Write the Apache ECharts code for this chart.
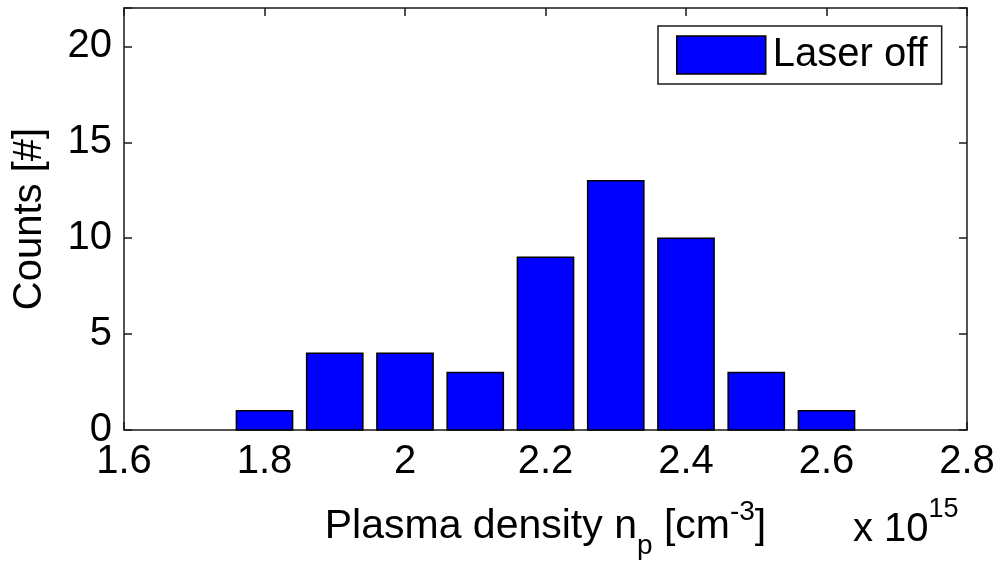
<!DOCTYPE html>
<html>
<head>
<meta charset="utf-8">
<script src="https://cdn.jsdelivr.net/npm/echarts@6/dist/echarts.min.js"></script>
<style>html,body{margin:0;padding:0;background:#fff}#c{width:998px;height:565px}</style>
</head>
<body>
<div id="c"></div>
<script>
// Data (plasma density in units of 1e15 cm^-3)
var binCenters = [1.8, 1.9, 2.0, 2.1, 2.2, 2.3, 2.4, 2.5, 2.6];
var counts = [1, 4, 4, 3, 9, 13, 10, 3, 1];
var xTicks = [1.6, 1.8, 2.0, 2.2, 2.4, 2.6, 2.8];
var yTicks = [0, 5, 10, 15, 20];
var seriesName = 'Laser off';

var FONT = "'Liberation Sans', Arial, Helvetica, sans-serif";
var BAR_W = 0.08;

var chart = echarts.init(document.getElementById('c'), null, {renderer: 'canvas'});
var data = binCenters.map(function (x, i) { return [x, counts[i]]; });

function yFmt(v) { return yTicks.indexOf(v) >= 0 ? String(v) : ''; }

var axisLineStyle = {color: '#1a1a1a', width: 1.5};
var option = {
  animation: false,
  backgroundColor: '#ffffff',
  grid: {left: 124, right: 31, top: 8, bottom: 132, containLabel: false},
  legend: {
    left: 658, top: 26,
    orient: 'horizontal',
    backgroundColor: '#fff',
    borderColor: '#1a1a1a', borderWidth: 1.5,
    padding: [9, 14, 9, 18],
    itemWidth: 89, itemHeight: 38,
    itemGap: 0,
    textStyle: {fontFamily: FONT, fontSize: 40, color: '#000', padding: [0, 0, 0, 2]},
    data: [{name: seriesName, icon: 'rect', itemStyle: {color: '#0000ff', borderColor: '#000', borderWidth: 1.5}}]
  },
  xAxis: [{
    type: 'value', min: 1.6, max: 2.8, interval: 0.2, position: 'bottom',
    axisLine: {show: true, onZero: false, lineStyle: axisLineStyle},
    axisTick: {show: true, inside: true, length: 8, lineStyle: axisLineStyle},
    axisLabel: {fontFamily: FONT, fontSize: 40, color: '#000', margin: 12,
      formatter: function (v) { return String(Math.round(v * 10) / 10); }},
    splitLine: {show: false},
    name: '{a|Plasma density n}{sub|p}{a| [cm}{sup|-3}{a|]}',
    nameLocation: 'middle', nameGap: 64,
    nameTextStyle: {
      fontFamily: FONT, color: '#000',
      rich: {
        a: {fontFamily: FONT, fontSize: 41, color: '#000', lineHeight: 66, verticalAlign: 'middle'},
        sub: {fontFamily: FONT, fontSize: 28, color: '#000', lineHeight: 66, verticalAlign: 'bottom'},
        sup: {fontFamily: FONT, fontSize: 28, color: '#000', lineHeight: 66, verticalAlign: 'top', padding: [4, 0, 0, 0]}
      }
    }
  }, {
    type: 'value', min: 1.6, max: 2.8, interval: 0.2, position: 'top',
    axisLine: {show: true, onZero: false, lineStyle: axisLineStyle},
    axisTick: {show: true, inside: true, length: 8, lineStyle: axisLineStyle},
    axisLabel: {show: false}, splitLine: {show: false}
  }],
  yAxis: [{
    type: 'value', min: 0, max: 22, interval: 5, position: 'left',
    axisLine: {show: true, onZero: false, lineStyle: axisLineStyle},
    axisTick: {show: true, inside: true, length: 8, lineStyle: axisLineStyle},
    axisLabel: {fontFamily: FONT, fontSize: 40, color: '#000', margin: 12, formatter: yFmt},
    splitLine: {show: false},
    name: 'Counts [#]', nameLocation: 'middle', nameGap: 74, nameRotate: 90,
    nameTextStyle: {fontFamily: FONT, fontSize: 40, color: '#000'}
  }, {
    type: 'value', min: 0, max: 22, interval: 5, position: 'right',
    axisLine: {show: true, onZero: false, lineStyle: axisLineStyle},
    axisTick: {show: true, inside: true, length: 8, lineStyle: axisLineStyle},
    axisLabel: {show: false}, splitLine: {show: false}
  }],
  graphic: [{
    type: 'text', left: 853, top: 496,
    style: {
      text: '{a|x 10}{sup|15}',
      rich: {
        a: {fontFamily: FONT, fontSize: 40, fill: '#000', lineHeight: 54, verticalAlign: 'bottom'},
        sup: {fontFamily: FONT, fontSize: 27, fill: '#000', lineHeight: 54, verticalAlign: 'top'}
      }
    }
  }],
  series: [{
    name: seriesName,
    type: 'custom',
    xAxisIndex: 0, yAxisIndex: 0,
    itemStyle: {color: '#0000ff', borderColor: '#000', borderWidth: 1.5},
    renderItem: function (params, api) {
      var x = api.value(0), y = api.value(1);
      var p0 = api.coord([x - BAR_W / 2, y]);
      var p1 = api.coord([x + BAR_W / 2, 0]);
      return {
        type: 'rect',
        shape: {x: p0[0], y: p0[1], width: p1[0] - p0[0], height: p1[1] - p0[1]},
        style: {fill: '#0000ff', stroke: '#000', lineWidth: 1.5}
      };
    },
    encode: {x: 0, y: 1},
    data: data,
    z: 1
  }]
};
chart.setOption(option);
</script>
</body>
</html>
